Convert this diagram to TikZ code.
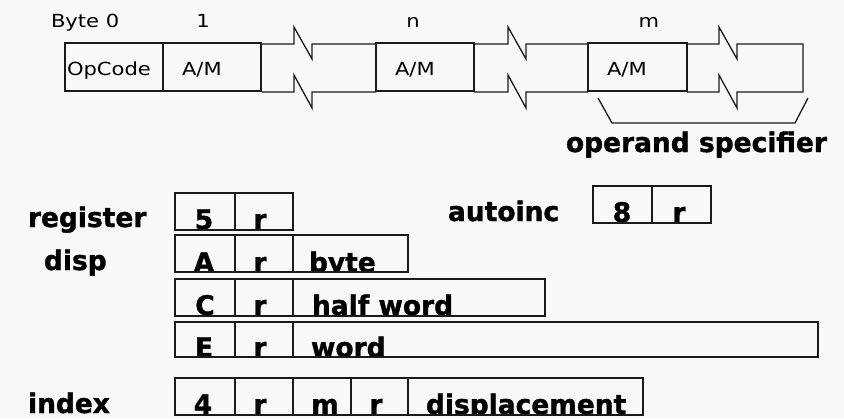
\documentclass[tikz,border=0pt]{standalone}
\usepackage{fontspec}
\usetikzlibrary{calc}
\newfontfamily\thinfont{DejaVu Sans}[FakeStretch=1.17]
\newfontfamily\boldfont{DejaVu Sans}[FakeStretch=0.98, BoldFeatures={FakeBold=1.2}]
\definecolor{bgc}{HTML}{F8F8F8}
\definecolor{linec}{HTML}{1A1A1A}
\tikzset{
  cell/.style={draw=linec, line width=1.3pt, inner sep=0pt, outer sep=0pt, anchor=north west},
  thin/.style={inner sep=0pt, outer sep=0pt, font=\thinfont\fontsize{18}{18}\selectfont},
  bold/.style={inner sep=0pt, outer sep=0pt, font=\boldfont\bfseries\fontsize{27}{27}\selectfont},
  brk/.style={draw=linec, line width=1.3pt, line join=miter},
}
\begin{document}
\begin{tikzpicture}[x=1pt,y=-1pt]
\fill[bgc] (0,0) rectangle (844,418);
\useasboundingbox (0,0) rectangle (844,418);

% ---------- top instruction format ----------
\node[cell, minimum width=98pt, minimum height=48pt] (op)  at (65,43)  {};
\node[cell, minimum width=98pt, minimum height=48pt] (am1) at (163,43) {};
\node[cell, minimum width=98pt, minimum height=48pt] (amn) at (376,43) {};
\node[cell, minimum width=99pt, minimum height=48pt] (amm) at (588,43) {};

% break sections
\draw[brk] (262,44) -- (294,44) -- (294,27) -- (312,59) -- (312,44) -- (376,44);
\draw[brk] (262,92) -- (294,92) -- (294,75) -- (312,108) -- (312,92) -- (376,92);
\draw[brk] (474,44) -- (508,44) -- (508,27) -- (526,59) -- (526,44) -- (588,44);
\draw[brk] (474,92) -- (508,92) -- (508,75) -- (526,108) -- (526,92) -- (588,92);
\draw[brk] (687,44) -- (719,44) -- (719,27) -- (737,59) -- (737,44) -- (803,44) -- (803,92)
           -- (737,92) -- (737,108) -- (719,75) -- (719,92) -- (687,92);

% brace
\draw[brk] (598,98) -- (612,123) -- (795,123) -- (808,98);

\node[thin, anchor=base west] (byte0) at (51,27) {Byte 0};
\node[thin, anchor=base] (b1) at (203,27) {1};
\node[thin, anchor=base] (bn) at (413,27) {n};
\node[thin, anchor=base] (bm) at (649,27) {m};
\node[thin, anchor=base west] (top) at (67,75) {OpCode};
\node[thin, anchor=base west] (tam1) at (182,75) {A/M};
\node[thin, anchor=base west] (tamn) at (395,75) {A/M};
\node[thin, anchor=base west] (tamm) at (607,75) {A/M};
\node[bold, anchor=base west] (opspec) at (566,152) {operand specifier};

% ---------- addressing modes ----------
\node[bold, anchor=base west] (lreg) at (28,227) {register};
\node[bold, anchor=base west] (ldisp) at (44,270) {disp};
\node[bold, anchor=base west] (lidx) at (28,413) {index};
\node[bold, anchor=base west] (lauto) at (448,221) {autoinc};

% register
\begin{scope}
\clip (175,193) rectangle (293,230);
\node[bold, anchor=base] (t5)  at (204,229) {5};
\node[bold, anchor=base] (trr) at (260,229) {r};
\end{scope}
\node[cell, minimum width=60pt, minimum height=37pt] (r5) at (175,193) {};
\node[cell, minimum width=58pt, minimum height=37pt] (rr) at (235,193) {};

% disp byte
\begin{scope}
\clip (175,235) rectangle (408,272);
\node[bold, anchor=base] (tA)  at (204,272) {A};
\node[bold, anchor=base] (tAr) at (260,272) {r};
\node[bold, anchor=base west] (tAb) at (309,272) {byte};
\end{scope}
\node[cell, minimum width=60pt, minimum height=37pt] (dA)  at (175,235) {};
\node[cell, minimum width=58pt, minimum height=37pt] (dAr) at (235,235) {};
\node[cell, minimum width=115pt, minimum height=37pt] (dAb) at (293,235) {};

% disp half word
\begin{scope}
\clip (175,279) rectangle (545,316);
\node[bold, anchor=base] (tC)  at (205,315) {C};
\node[bold, anchor=base] (tCr) at (260,315) {r};
\node[bold, anchor=base west] (tCh) at (312,315) {half word};
\end{scope}
\node[cell, minimum width=60pt, minimum height=37pt] (dC)  at (175,279) {};
\node[cell, minimum width=58pt, minimum height=37pt] (dCr) at (235,279) {};
\node[cell, minimum width=252pt, minimum height=37pt] (dCh) at (293,279) {};

% disp word
\begin{scope}
\clip (175,322) rectangle (818,357);
\node[bold, anchor=base] (tE)  at (204,357) {E};
\node[bold, anchor=base] (tEr) at (260,357) {r};
\node[bold, anchor=base west] (tEw) at (311,357) {word};
\end{scope}
\node[cell, minimum width=60pt, minimum height=35pt] (dE)  at (175,322) {};
\node[cell, minimum width=58pt, minimum height=35pt] (dEr) at (235,322) {};
\node[cell, minimum width=525pt, minimum height=35pt] (dEw) at (293,322) {};

% index
\begin{scope}
\clip (175,378) rectangle (643,415);
\node[bold, anchor=base] (t4)   at (203,414) {4};
\node[bold, anchor=base] (tir)  at (260,414) {r};
\node[bold, anchor=base] (tim)  at (325,414) {m};
\node[bold, anchor=base] (tir2) at (376,414) {r};
\node[bold, anchor=base west] (tidp) at (426,414) {displacement};
\end{scope}
\node[cell, minimum width=60pt, minimum height=37pt] (i4)  at (175,378) {};
\node[cell, minimum width=58pt, minimum height=37pt] (ir)  at (235,378) {};
\node[cell, minimum width=58pt, minimum height=37pt] (im)  at (293,378) {};
\node[cell, minimum width=57pt, minimum height=37pt] (ir2) at (351,378) {};
\node[cell, minimum width=235pt, minimum height=37pt] (idp) at (408,378) {};

% autoinc
\begin{scope}
\clip (593,186) rectangle (711,223);
\node[bold, anchor=base] (t8)  at (622,222) {8};
\node[bold, anchor=base] (tar) at (679,222) {r};
\end{scope}
\node[cell, minimum width=59pt, minimum height=37pt] (a8) at (593,186) {};
\node[cell, minimum width=59pt, minimum height=37pt] (ar) at (652,186) {};
\end{tikzpicture}
\end{document}
